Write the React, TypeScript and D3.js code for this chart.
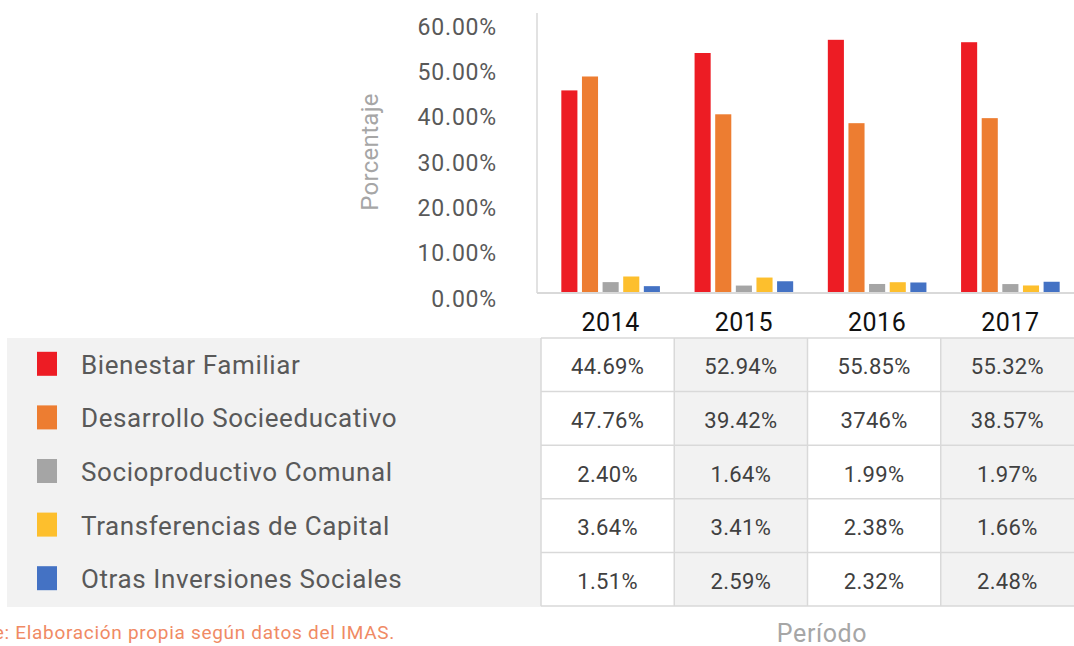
import React from "react";
import * as d3 from "d3";

const years = ["2014", "2015", "2016", "2017"];
const seriesNames = [
  "Bienestar Familiar",
  "Desarrollo Socieeducativo",
  "Socioproductivo Comunal",
  "Transferencias de Capital",
  "Otras Inversiones Sociales",
];
const seriesColors = ["#ed1c24", "#ed7d31", "#a5a5a5", "#fdbf2d", "#4472c4"];
const bienestar = [44.69, 52.94, 55.85, 55.32];
const desarrollo = [47.76, 39.42, 37.46, 38.57];
const socioproductivo = [2.4, 1.64, 1.99, 1.97];
const transferencias = [3.64, 3.41, 2.38, 1.66];
const otras = [1.51, 2.59, 2.32, 2.48];
const seriesValues = [bienestar, desarrollo, socioproductivo, transferencias, otras];
const tableLabels = [
  ["44.69%", "52.94%", "55.85%", "55.32%"],
  ["47.76%", "39.42%", "3746%", "38.57%"],
  ["2.40%", "1.64%", "1.99%", "1.97%"],
  ["3.64%", "3.41%", "2.38%", "1.66%"],
  ["1.51%", "2.59%", "2.32%", "2.48%"],
];
const yTicks = [0, 10, 20, 30, 40, 50, 60];

const W = 1074;
const H = 646;
const plotLeft = 541;
const plotRight = 1074;
const baseY = 293;
const topY = 21;
const tableTop = 338;
const tableBottom = 606;
const grid = "#d9d9d9";
const font = "Roboto, 'Noto Sans', sans-serif";

export default function App() {
  const y = d3.scaleLinear().domain([0, 60]).range([baseY, topY]);
  const x = d3
    .scaleBand<string>()
    .domain(years)
    .range([plotLeft + 3, plotRight + 3])
    .paddingInner(0.26)
    .paddingOuter(0.13);
  const xCol = d3.scaleBand<string>().domain(years).range([plotLeft, plotRight]);
  const xInner = d3
    .scaleBand<string>()
    .domain(seriesNames)
    .range([0, x.bandwidth()])
    .paddingInner(0.22);
  const row = d3.scaleBand<string>().domain(seriesNames).range([tableTop, tableBottom]);

  return (
    <svg
      width={W}
      height={H}
      style={{ position: "absolute", left: 0, top: 0, background: "#fff" }}
      fontFamily={font}
    >
      {/* y axis line */}
      <line x1={537} x2={537} y1={13} y2={baseY} stroke={grid} strokeWidth={1.5} />
      {/* tick labels */}
      {yTicks.map((t) => (
        <text
          key={t}
          x={497}
          y={y(t) + 6}
          textAnchor="end"
          dominantBaseline="central"
          fontSize={23}
          letterSpacing={0.8}
          fill="#595959"
        >
          {t.toFixed(2) + "%"}
        </text>
      ))}
      <text
        transform={`translate(370,152) rotate(-90)`}
        textAnchor="middle"
        dominantBaseline="central"
        fontSize={24}
        letterSpacing={0.3}
        fill="#a6a6a6"
      >
        Porcentaje
      </text>

      {/* bars */}
      {years.map((yr, i) => (
        <g key={yr} transform={`translate(${x(yr)},0)`}>
          {seriesNames.map((s, j) => (
            <rect
              key={s}
              x={xInner(s)}
              y={y(seriesValues[j][i])}
              width={xInner.bandwidth()}
              height={baseY - y(seriesValues[j][i])}
              fill={seriesColors[j]}
            />
          ))}
        </g>
      ))}
      <line x1={537} x2={plotRight} y1={baseY} y2={baseY} stroke={grid} strokeWidth={2} />

      {/* year labels */}
      {years.map((yr) => (
        <text
          key={yr}
          x={(x(yr) as number) + x.bandwidth() / 2}
          y={322}
          textAnchor="middle"
          dominantBaseline="central"
          fontSize={25}
          letterSpacing={0.5}
          fill="#111"
        >
          {yr}
        </text>
      ))}

      {/* legend block */}
      <rect x={7} y={tableTop} width={plotLeft - 7} height={tableBottom - tableTop + 1} fill="#f2f2f2" />
      {seriesNames.map((s, j) => {
        const cy = (row(s) as number) + row.bandwidth() / 2;
        return (
          <g key={s}>
            <rect x={37} y={cy - 13} width={20} height={24} fill={seriesColors[j]} />
            <text
              x={81}
              y={cy}
              dominantBaseline="central"
              fontSize={26}
              letterSpacing={0.6}
              fill="#595959"
            >
              {s}
            </text>
          </g>
        );
      })}

      {/* table cells */}
      {years.map((yr, i) => (
        <rect
          key={yr}
          x={xCol(yr)}
          y={tableTop}
          width={xCol.bandwidth()}
          height={tableBottom - tableTop}
          fill={i % 2 === 1 ? "#f2f2f2" : "#ffffff"}
        />
      ))}
      {seriesNames.map((s) => (
        <line
          key={s}
          x1={plotLeft}
          x2={plotRight}
          y1={row(s)}
          y2={row(s)}
          stroke={grid}
          strokeWidth={1.5}
        />
      ))}
      <line x1={plotLeft} x2={plotRight} y1={tableBottom} y2={tableBottom} stroke={grid} strokeWidth={1.5} />
      {years.map((yr) => (
        <line
          key={yr}
          x1={xCol(yr)}
          x2={xCol(yr)}
          y1={tableTop}
          y2={tableBottom}
          stroke={grid}
          strokeWidth={1.5}
        />
      ))}
      {seriesNames.map((s, j) =>
        years.map((yr, i) => (
          <text
            key={s + yr}
            x={(xCol(yr) as number) + xCol.bandwidth() / 2}
            y={(row(s) as number) + row.bandwidth() / 2 + 2}
            textAnchor="middle"
            dominantBaseline="central"
            fontSize={22}
            letterSpacing={0.3}
            fill="#404040"
          >
            {tableLabels[j][i]}
          </text>
        ))
      )}

      {/* footer */}
      <text
        x={395}
        y={632}
        textAnchor="end"
        dominantBaseline="central"
        fontSize={19}
        letterSpacing={0.7}
        fill="#f08a64"
      >
        Fuente: Elaboración propia según datos del IMAS.
      </text>
      <text
        x={822}
        y={633}
        textAnchor="middle"
        dominantBaseline="central"
        fontSize={25}
        letterSpacing={0.6}
        fill="#a6a6a6"
      >
        Período
      </text>
    </svg>
  );
}
